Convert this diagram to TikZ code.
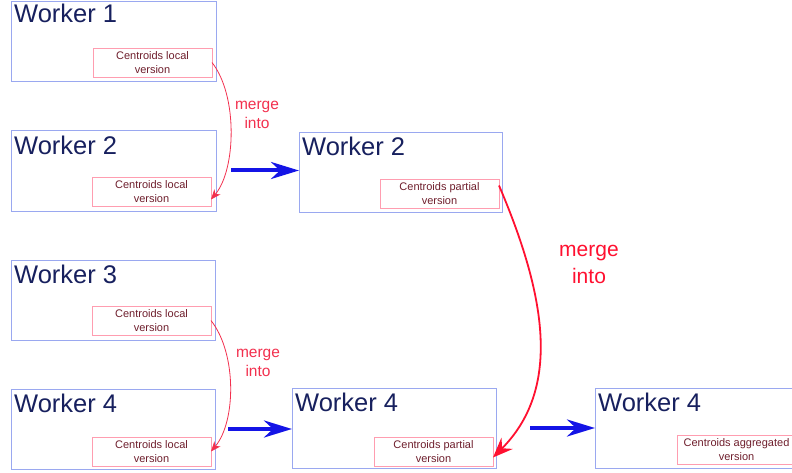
\documentclass[tikz,border=0pt]{standalone}
\usepackage{fontspec}
\setmainfont{Liberation Sans}
\usetikzlibrary{arrows.meta}
\definecolor{boxblue}{HTML}{9AA8F0}
\definecolor{titlenavy}{HTML}{17205E}
\definecolor{tagpink}{HTML}{FF9DB0}
\definecolor{tagtext}{HTML}{6E1E2C}
\definecolor{mergered}{HTML}{F2304E}
\definecolor{bigred}{HTML}{FF1030}
\definecolor{flowblue}{HTML}{1414E6}
\tikzset{
  worker/.style={draw=boxblue, line width=0.9pt, anchor=north west,
    minimum width=205pt, minimum height=80pt, inner sep=0pt, outer sep=0pt},
  wtitle/.style={anchor=base west, inner sep=0pt, text=titlenavy,
    font=\fontsize{25.5}{30}\selectfont},
  tag/.style={draw=tagpink, line width=0.8pt, anchor=north west,
    minimum width=119pt, minimum height=29pt, inner sep=0pt, outer sep=0pt,
    align=center, text=tagtext, font=\fontsize{11}{13.5}\selectfont},
  mlabel/.style={align=center, text=mergered, inner sep=0pt,
    font=\fontsize{15.5}{19.5}\selectfont},
  biglabel/.style={align=center, text=bigred, inner sep=0pt,
    font=\fontsize{21}{27}\selectfont},
  mergearrow/.style={draw=mergered, line width=0.8pt,
    -{Stealth[length=10pt, width=8pt, inset=3pt]}},
  bigmerge/.style={draw=bigred, line width=1.8pt,
    -{Stealth[length=20pt, width=16pt, inset=7pt]}},
  flow/.style={draw=flowblue, line width=4pt,
    -{Stealth[length=28pt, width=17pt, inset=9pt]}}
}
\begin{document}
\begin{tikzpicture}[x=1pt, y=-1pt]
\useasboundingbox (0,0) rectangle (792,473);
\clip (0,0) rectangle (792,473);

% worker boxes
\node[worker] (w1)  at (11,1)   {};
\node[worker, minimum height=81pt] (w2a) at (11,130) {};
\node[worker, minimum width=204pt] (w3)  at (11,260) {};
\node[worker, minimum width=204pt] (w4a) at (11,389) {};
\node[worker, minimum width=203pt] (w2b) at (299,132) {};
\node[worker, minimum width=204pt] (w4b) at (292,388) {};
\node[worker, minimum width=220pt] (w4c) at (595,388) {};

% titles
\node[wtitle] (t1)  at (14,23)  {Worker 1};
\node[wtitle] (t2a) at (14,155) {Worker 2};
\node[wtitle] (t3)  at (14,283) {Worker 3};
\node[wtitle] (t4a) at (14,412) {Worker 4};
\node[wtitle] (t2b) at (302,156) {Worker 2};
\node[wtitle] (t4b) at (295,411) {Worker 4};
\node[wtitle] (t4c) at (598,411) {Worker 4};

% centroid tags
\node[tag] (l1) at (93,48)   {Centroids local\\version};
\node[tag] (l2) at (92,177)  {Centroids local\\version};
\node[tag] (l3) at (92,306)  {Centroids local\\version};
\node[tag] (l4) at (92,437)  {Centroids local\\version};
\node[tag] (p2) at (380,179) {Centroids partial\\version};
\node[tag] (p4) at (374,437) {Centroids partial\\version};
% this tag runs past the right edge of the page
\node[tag, minimum width=130pt] (ag) at (677,435)
  {Centroids aggregated\hspace*{11pt}\\version\hspace*{11pt}};

% merge arrows
\draw[mergearrow] (l1.east) .. controls +(26,33) and +(25,-30) .. ([yshift=-8pt]l2.east);
\draw[mergearrow] (l3.east) .. controls +(26,33) and +(25,-30) .. (l4.east);
\draw[bigmerge] ([yshift=8pt]p2.east) .. controls (548,300) and (560,390) .. ([yshift=-6pt]p4.east);

\node[mlabel] (m1) at (257,115) {merge\\into};
\node[mlabel] (m2) at (258,363) {merge\\into};
\node[biglabel] (m3) at (589,264) {merge\\into};

% flow arrows
\draw[flow, shorten <=15pt] (w2a.east) -- (w2a.east -| w2b.west);
\draw[flow, shorten <=13pt] (w4a.east) -- (w4a.east -| w4b.west);
\draw[flow, shorten <=34pt] (w4b.east) -- (w4b.east -| w4c.west);
\end{tikzpicture}
\end{document}
